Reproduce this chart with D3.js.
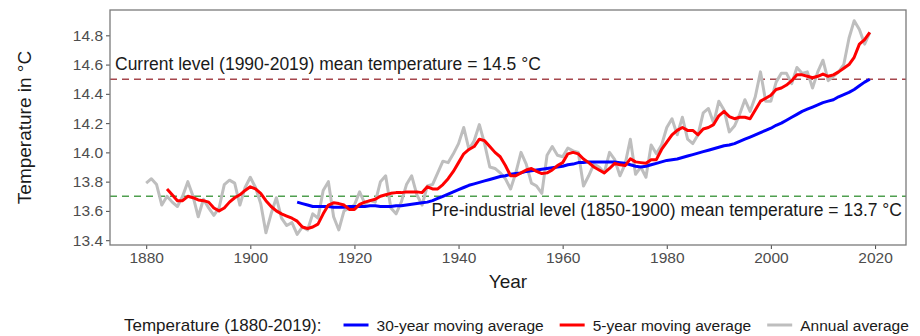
<!DOCTYPE html>
<html>
<head>
<meta charset="utf-8">
<script src="https://cdn.jsdelivr.net/npm/d3@7"></script>
<style>
  html, body { margin: 0; padding: 0; background: #ffffff; }
  svg { display: block; font-family: "Liberation Sans", Arial, Helvetica, sans-serif; }
</style>
</head>
<body>
<svg id="chart" width="920" height="336"></svg>
<script>
// Global mean surface temperature (°C), annual averages 1880-2019
const annualYears = d3.range(1880, 2020);
const annualTemp = [
  13.79, 13.82, 13.78, 13.64, 13.70, 13.66, 13.63, 13.70, 13.80, 13.70, // 1880s
  13.56, 13.68, 13.62, 13.57, 13.62, 13.78, 13.81, 13.79, 13.64, 13.76, // 1890s
  13.83, 13.76, 13.65, 13.45, 13.58, 13.69, 13.55, 13.50, 13.52, 13.44, // 1900s
  13.49, 13.47, 13.58, 13.55, 13.74, 13.80, 13.56, 13.47, 13.60, 13.62, // 1910s
  13.64, 13.73, 13.65, 13.67, 13.66, 13.80, 13.84, 13.62, 13.58, 13.66, // 1920s
  13.78, 13.84, 13.71, 13.64, 13.77, 13.78, 13.86, 13.94, 13.93, 13.99, // 1930s
  14.06, 14.17, 14.02, 14.08, 14.19, 14.06, 13.90, 13.89, 13.86, 13.82, // 1940s
  13.75, 13.86, 14.00, 13.92, 13.79, 13.77, 13.72, 13.98, 14.04, 13.98, // 1950s
  13.97, 14.03, 14.01, 14.00, 13.77, 13.84, 13.92, 13.90, 13.86, 14.00, // 1960s
  13.95, 13.84, 13.92, 14.09, 13.85, 13.90, 13.83, 14.05, 13.99, 14.05, // 1970s
  14.17, 14.23, 14.12, 14.24, 14.09, 14.06, 14.12, 14.27, 14.30, 14.20, // 1980s
  14.35, 14.29, 14.14, 14.18, 14.26, 14.36, 14.28, 14.38, 14.55, 14.35, // 1990s
  14.35, 14.48, 14.54, 14.54, 14.47, 14.58, 14.54, 14.55, 14.44, 14.55, // 2000s
  14.63, 14.49, 14.52, 14.55, 14.60, 14.78, 14.90, 14.84, 14.74, 14.82  // 2010s
];

// 5-year moving average, 1884-2019
const ma5Years = d3.range(1884, 2020);
const ma5Temp = [
  13.75, 13.71, 13.67, 13.67, 13.70, 13.69,                             // 1884-1889
  13.675, 13.67, 13.66, 13.62, 13.60, 13.62, 13.66, 13.69, 13.71, 13.74, // 1890s
  13.765, 13.75, 13.72, 13.67, 13.63, 13.60, 13.58, 13.565, 13.55, 13.53, // 1900s
  13.49, 13.48, 13.49, 13.51, 13.58, 13.64, 13.655, 13.65, 13.64, 13.61, // 1910s
  13.61, 13.645, 13.66, 13.67, 13.68, 13.70, 13.71, 13.72, 13.725, 13.725, // 1920s
  13.73, 13.73, 13.73, 13.725, 13.765, 13.75, 13.75, 13.78, 13.82, 13.87, // 1930s
  13.93, 13.99, 14.02, 14.04, 14.09, 14.08, 14.04, 14.00, 13.97, 13.91, // 1940s
  13.84, 13.84, 13.86, 13.88, 13.89, 13.87, 13.855, 13.86, 13.88, 13.91, // 1950s
  13.93, 13.99, 14.00, 13.99, 13.955, 13.93, 13.90, 13.88, 13.86, 13.89, // 1960s
  13.925, 13.915, 13.91, 13.956, 13.935, 13.93, 13.925, 13.95, 13.95, 14.02, // 1970s
  14.07, 14.12, 14.15, 14.17, 14.15, 14.15, 14.12, 14.16, 14.17, 14.19, // 1980s
  14.25, 14.28, 14.245, 14.23, 14.24, 14.24, 14.23, 14.29, 14.35, 14.37, // 1990s
  14.39, 14.43, 14.44, 14.46, 14.49, 14.53, 14.53, 14.52, 14.51, 14.52, // 2000s
  14.535, 14.52, 14.53, 14.55, 14.575, 14.60, 14.65, 14.74, 14.77, 14.82 // 2010s
];

// 30-year moving average, 1909-2019
const ma30Years = d3.range(1909, 2020);
const ma30Temp = [
  13.66,                                                                  // 1909
  13.65, 13.64, 13.63, 13.63, 13.63, 13.63, 13.625, 13.625, 13.625, 13.63, // 1910s
  13.63, 13.63, 13.63, 13.635, 13.635, 13.63, 13.63, 13.63, 13.635, 13.635, // 1920s
  13.64, 13.645, 13.65, 13.655, 13.66, 13.67, 13.685, 13.70, 13.715, 13.73, // 1930s
  13.745, 13.76, 13.775, 13.785, 13.795, 13.805, 13.815, 13.825, 13.835, 13.84, // 1940s
  13.85, 13.855, 13.86, 13.87, 13.875, 13.88, 13.885, 13.89, 13.895, 13.90, // 1950s
  13.905, 13.915, 13.92, 13.93, 13.93, 13.935, 13.935, 13.935, 13.935, 13.935, // 1960s
  13.935, 13.93, 13.925, 13.915, 13.905, 13.90, 13.905, 13.915, 13.925, 13.935, // 1970s
  13.945, 13.95, 13.955, 13.965, 13.975, 13.985, 13.995, 14.005, 14.015, 14.025, // 1980s
  14.035, 14.045, 14.05, 14.06, 14.075, 14.09, 14.105, 14.12, 14.135, 14.15, // 1990s
  14.165, 14.185, 14.20, 14.22, 14.24, 14.26, 14.28, 14.295, 14.31, 14.325, // 2000s
  14.34, 14.35, 14.36, 14.38, 14.395, 14.41, 14.43, 14.455, 14.48, 14.50  // 2010s
];

// Reference levels
const currentLevel = 14.5;       // mean 1990-2019
const preIndustrialLevel = 13.7; // mean 1850-1900

const yTicks = [13.4, 13.6, 13.8, 14.0, 14.2, 14.4, 14.6, 14.8];
const xTicks = [1880, 1900, 1920, 1940, 1960, 1980, 2000, 2020];

const legendTitle = "Temperature (1880-2019):";
const legendLabels = ["30-year moving average", "5-year moving average", "Annual average"];
const seriesColors = ["#0000ff", "#ff0000", "#bebebe"];

// ---- layout ----
const svg = d3.select("#chart");
const panel = { left: 110, right: 906, top: 10, bottom: 245 };

// ggplot-style 5% expansion of the data range
function expand(ext) {
  const pad = (ext[1] - ext[0]) * 0.05;
  return [ext[0] - pad, ext[1] + pad];
}

const x = d3.scaleLinear()
  .domain(expand(d3.extent(annualYears)))
  .range([panel.left, panel.right]);

const y = d3.scaleLinear()
  .domain(expand(d3.extent(annualTemp)))
  .range([panel.bottom, panel.top]);

// axes
const xAxis = d3.axisBottom(x).tickValues(xTicks).tickFormat(d3.format("d"))
  .tickSize(4).tickPadding(3);
const yAxis = d3.axisLeft(y).tickValues(yTicks).tickFormat(d3.format(".1f"))
  .tickSize(4).tickPadding(3);

const gx = svg.append("g").attr("transform", `translate(0,${panel.bottom})`).call(xAxis);
const gy = svg.append("g").attr("transform", `translate(${panel.left},0)`).call(yAxis);
[gx, gy].forEach(g => {
  g.select(".domain").remove();
  g.selectAll(".tick line").attr("stroke", "#555").attr("stroke-width", 1.1);
  g.selectAll(".tick text").attr("fill", "#4d4d4d").style("font-size", "15.5px");
});

// reference lines
svg.append("line")
  .attr("x1", panel.left).attr("x2", panel.right)
  .attr("y1", y(currentLevel)).attr("y2", y(currentLevel))
  .attr("stroke", "#a6474d").attr("stroke-width", 1.6).attr("stroke-dasharray", "7,5");
svg.append("line")
  .attr("x1", panel.left).attr("x2", panel.right)
  .attr("y1", y(preIndustrialLevel)).attr("y2", y(preIndustrialLevel))
  .attr("stroke", "#4f9f4f").attr("stroke-width", 1.6).attr("stroke-dasharray", "7,5");

// series lines
const line = d3.line().x(d => x(d[0])).y(d => y(d[1]));
const zip = (a, b) => a.map((v, i) => [v, b[i]]);

svg.append("path").datum(zip(annualYears, annualTemp))
  .attr("d", line).attr("fill", "none")
  .attr("stroke", seriesColors[2]).attr("stroke-width", 3).attr("stroke-linejoin", "round");
svg.append("path").datum(zip(ma30Years, ma30Temp))
  .attr("d", line).attr("fill", "none")
  .attr("stroke", seriesColors[0]).attr("stroke-width", 3).attr("stroke-linejoin", "round");
svg.append("path").datum(zip(ma5Years, ma5Temp))
  .attr("d", line).attr("fill", "none")
  .attr("stroke", seriesColors[1]).attr("stroke-width", 3).attr("stroke-linejoin", "round");

// annotations
svg.append("text")
  .attr("x", 115).attr("y", 70)
  .style("font-size", "17.5px").attr("fill", "#1a1a1a")
  .text(`Current level (1990-2019) mean temperature = ${currentLevel} °C`);
svg.append("text")
  .attr("x", 902).attr("y", 216).attr("text-anchor", "end")
  .style("font-size", "17.5px").attr("fill", "#1a1a1a")
  .text(`Pre-industrial level (1850-1900) mean temperature = ${preIndustrialLevel} °C`);

// panel border
svg.append("rect")
  .attr("x", panel.left).attr("y", panel.top)
  .attr("width", panel.right - panel.left).attr("height", panel.bottom - panel.top)
  .attr("fill", "none").attr("stroke", "#7a7a7a").attr("stroke-width", 1.3);

// axis titles
svg.append("text")
  .attr("x", (panel.left + panel.right) / 2).attr("y", 288)
  .attr("text-anchor", "middle").style("font-size", "19px").attr("fill", "#1a1a1a")
  .text("Year");
svg.append("text")
  .attr("transform", `translate(31,${(panel.top + panel.bottom) / 2}) rotate(-90)`)
  .attr("text-anchor", "middle").style("font-size", "19px").attr("fill", "#1a1a1a")
  .text("Temperature in °C");

// legend
const legend = svg.append("g");
const legendY = 325;
const titleNode = legend.append("text")
  .attr("x", 124).attr("y", legendY + 6)
  .style("font-size", "17px").attr("fill", "#1a1a1a")
  .text(legendTitle);
let cursor = titleNode.node().getComputedTextLength() + 124 + 22;
legendLabels.forEach((label, i) => {
  legend.append("line")
    .attr("x1", cursor).attr("x2", cursor + 25)
    .attr("y1", legendY).attr("y2", legendY)
    .attr("stroke", seriesColors[i]).attr("stroke-width", 3);
  const t = legend.append("text")
    .attr("x", cursor + 33).attr("y", legendY + 5.5)
    .style("font-size", "15.5px").attr("fill", "#1a1a1a")
    .text(label);
  cursor += 33 + t.node().getComputedTextLength() + 16;
});
</script>
</body>
</html>
